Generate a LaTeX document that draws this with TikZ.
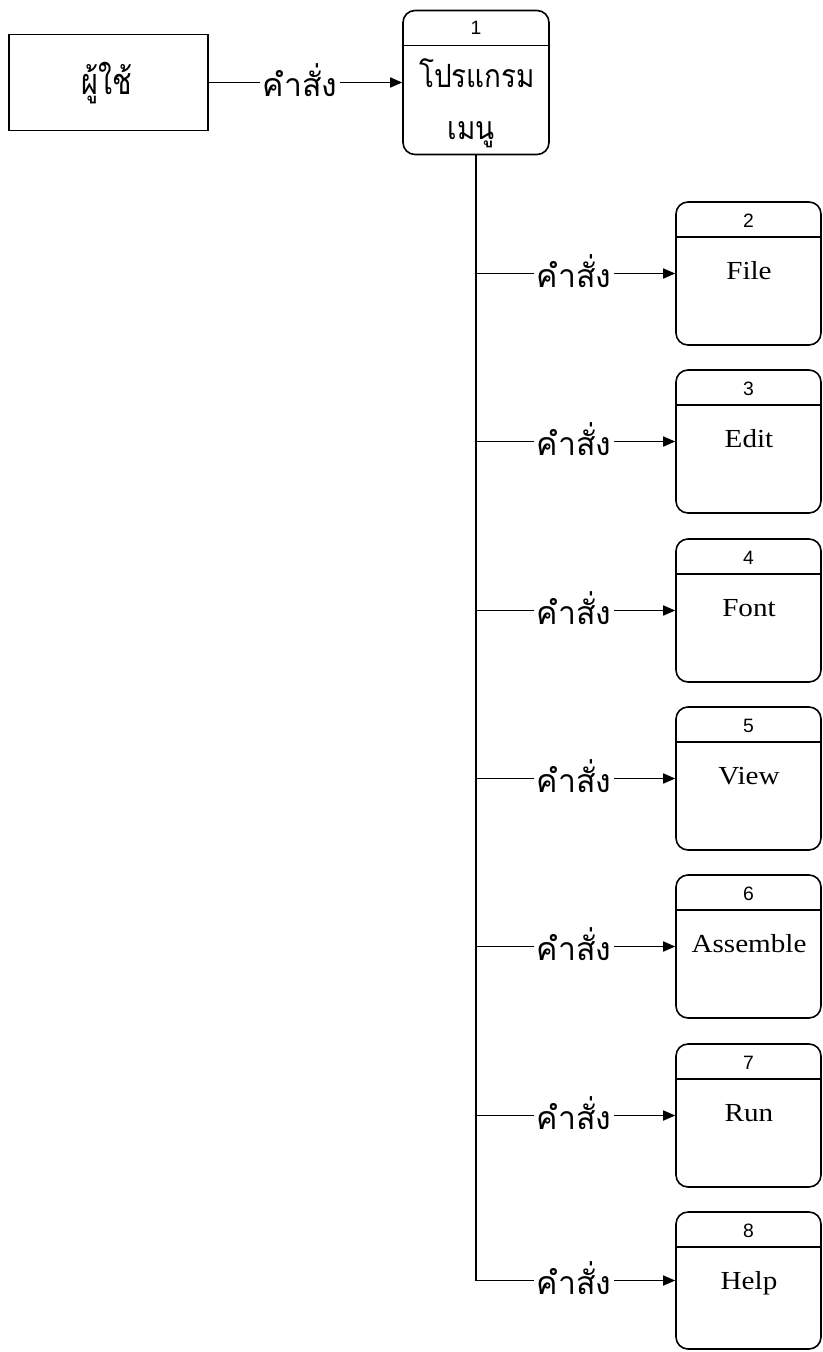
\documentclass[tikz,border=0pt]{standalone}
\usepackage{fontspec}
\setmainfont{Liberation Serif}
\newfontfamily\thaifont[Script=Thai]{Loma}
\newfontfamily\thainarrow[Script=Thai,FakeStretch=0.87]{Loma}
\newfontfamily\thaiuser[Script=Thai,FakeStretch=0.8]{Loma}
\newfontfamily\numfont{Liberation Sans}
\newfontfamily\enfont[FakeStretch=1.12]{Liberation Serif}
\usetikzlibrary{arrows.meta,calc}
\begin{document}
\begin{tikzpicture}[x=0.75pt,y=-0.75pt, line width=1.2pt,
  proc/.style={draw, rounded corners=9pt, minimum width=108.75pt, minimum height=107.25pt, inner sep=0pt},
  ent/.style={draw, minimum width=149.25pt, minimum height=72pt, inner sep=0pt},
  flow/.style={-{Triangle[length=9pt,width=7.5pt]}},
  lbl/.style={font=\thaifont\fontsize{24pt}{28pt}\selectfont, fill=white, inner xsep=2pt, inner ysep=0pt, anchor=base},
  thai/.style={font=\thainarrow\fontsize{24pt}{28pt}\selectfont, anchor=base, inner sep=0pt},
  numtxt/.style={font=\numfont\fontsize{14.5pt}{16pt}\selectfont, inner sep=0pt},
  engtxt/.style={font=\enfont\fontsize{19.5pt}{22pt}\selectfont, anchor=base, inner sep=0pt}
]
\useasboundingbox (0,0) rectangle (823,1352);
\node[ent] (u) at (108.5,82.5) {};
\node[thai, font=\thaiuser\fontsize{27pt}{30pt}\selectfont] (ut) at (107,95) {ผู้ใช้};
\node[proc, minimum width=109.5pt, minimum height=108pt] (b1) at (476,82.5) {};
\draw ($(b1.north west)+(0,36)$) -- ($(b1.north east)+(0,36)$);
\node[numtxt] (n1) at (476,28) {1};
\node[thai] (p1) at (477,88) {โปรแกรม};
\node[thai] (p2) at (471,140) {เมนู};
\draw[flow] (u.east) -- (b1.west);
\node[lbl] (c1) at (300,96.5) {คำสั่ง};
\foreach \k/\t/\h/\nm in {2/202/143/File,3/370/143/Edit,4/539/143/Font,5/707/143/View,6/875/143/Assemble,7/1044/143/Run,8/1212/137/Help}{
  \pgfmathsetmacro\cy{\t+\h/2}
  \pgfmathsetmacro\hh{\h*0.75}
  \node[proc, minimum height=\hh pt] (b\k) at (748.5,\cy) {};
  \draw ($(b\k.north west)+(0,36)$) -- ($(b\k.north east)+(0,36)$);
  \node[numtxt] (n\k) at (748.5,\t+19) {\k};
  \node[engtxt] (m\k) at (749,\t+77) {\nm};
  \coordinate (t\k) at (b1.south |- b\k.west);
  \draw[flow] (t\k) -- (b\k.west);
  \node[lbl] (c\k) at (574,\cy+14) {คำสั่ง};
}
\draw (b1.south) -- (t8);
\end{tikzpicture}
\end{document}
